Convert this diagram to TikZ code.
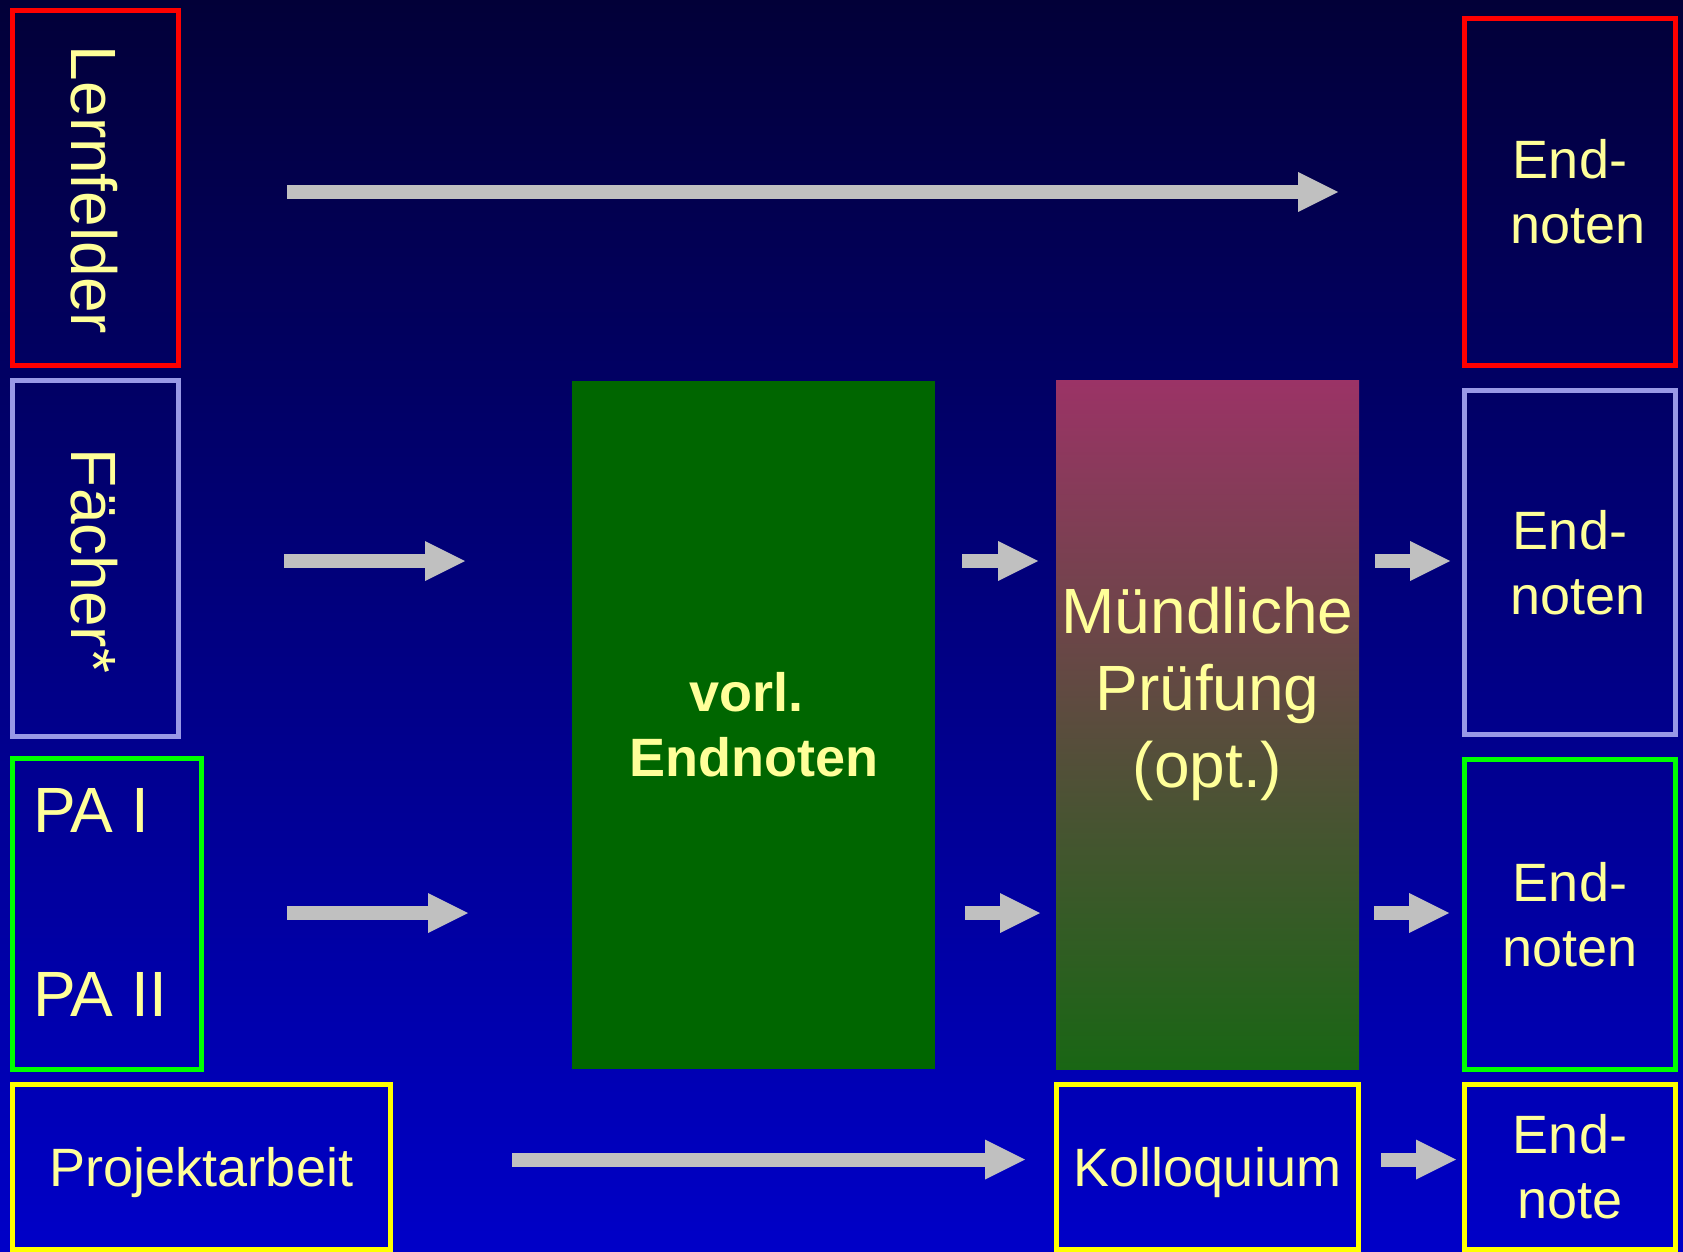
\documentclass[tikz,border=0pt]{standalone}
\usepackage{fontspec}
\setmainfont{Liberation Sans}
\usetikzlibrary{arrows.meta}
\definecolor{bgtop}{RGB}{2,0,56}
\definecolor{bgbot}{RGB}{0,0,200}
\definecolor{mtop}{RGB}{155,51,102}
\definecolor{mmid}{RGB}{120,70,84}
\definecolor{mbot}{RGB}{25,102,20}
\definecolor{vgreen}{RGB}{0,102,0}
\definecolor{lav}{RGB}{153,153,230}
\definecolor{agray}{RGB}{192,192,192}
\definecolor{tyel}{RGB}{255,255,153}
\definecolor{bred}{RGB}{255,0,0}
\definecolor{bgreen}{RGB}{0,255,0}
\definecolor{byel}{RGB}{255,255,0}
\begin{document}
\begin{tikzpicture}[x=0.5pt,y=-0.5pt,
  box/.style={draw,line width=2.5pt,inner sep=0pt,outer sep=0pt,text=tyel,align=center},
  solid box/.style={inner sep=0pt,outer sep=0pt,text=tyel,align=center},
  mid/.style={font=\fontsize{27}{32.4}\selectfont},
  big/.style={font=\fontsize{32}{38.4}\selectfont},
  lbl/.style={text=tyel,inner sep=0pt,outer sep=0pt,align=center},
  arr/.style={draw=agray,line width=7pt,-{Triangle[length=20pt,width=20pt,line width=0pt]}}]
\useasboundingbox (0,0) rectangle (1683,1252);
\shade[top color=bgtop,bottom color=bgbot] (0,0) rectangle (1683,1252);
% left boxes
\node[box,draw=bred,minimum width=83pt,minimum height=177.5pt] (lern) at (95.5,188) {};
\node[lbl,big,rotate=-90] (lernt) at (94.5,190) {Lernfelder};
\node[box,draw=lav,minimum width=83pt,minimum height=178pt] (faech) at (95.5,558.5) {};
\node[lbl,big,rotate=-90] (faecht) at (94.5,561) {Fächer*};
\node[box,draw=bgreen,minimum width=94.5pt,minimum height=155.5pt] (pa) at (107,914) {};
\node[lbl,big,anchor=base west] (pa1) at (33,832) {PA I};
\node[lbl,big,anchor=base west] (pa2) at (33,1016) {PA II};
\node[box,draw=byel,mid,text depth=0pt,minimum width=189pt,minimum height=82.5pt] (proj) at (201.5,1167) {Projektarbeit};
% middle
\node[solid box,fill=vgreen,font=\fontsize{27}{32.4}\selectfont\bfseries,minimum width=181.5pt,minimum height=344pt] (vorl) at (753.5,725) {vorl.\rule{7pt}{0pt}\\Endnoten};
\node[solid box,shade,top color=mtop,middle color=mmid,bottom color=mbot,minimum width=151.5pt,minimum height=344.5pt] (mp) at (1207.5,724.5) {};
\node[lbl,big] (mpt) at (1207.5,694) {Mündliche\\Prüfung\\(opt.)};
\node[box,draw=byel,mid,text depth=0pt,minimum width=151pt,minimum height=82.5pt] (koll) at (1207.5,1167) {Kolloquium};
% right boxes
\node[box,draw=bred,mid,minimum width=105.5pt,minimum height=173.5pt] (end1) at (1570,192) {End-\\\rule{8pt}{0pt}noten};
\node[box,draw=lav,mid,minimum width=105.5pt,minimum height=172pt] (end2) at (1570,562.5) {End-\\\rule{8pt}{0pt}noten};
\node[box,draw=bgreen,mid,minimum width=105.5pt,minimum height=155pt] (end3) at (1570,914.5) {End-\\noten};
\node[box,draw=byel,mid,minimum width=105.5pt,minimum height=82.5pt] (end4) at (1570,1167) {End-\\note};
% rows
\coordinate (r1) at (0,192);
\coordinate (r2) at (0,561);
\coordinate (r3) at (0,913);
\coordinate (r4) at (0,1159.5);
% arrows
\draw[arr,shorten <=54.25pt,shorten >=63.25pt] (lern.east |- r1) -- (end1.west |- r1);
\draw[arr,shorten <=52.75pt,shorten >=53.5pt] (faech.east |- r2) -- (vorl.west |- r2);
\draw[arr,shorten <=42.75pt,shorten >=52pt] (pa.east |- r3) -- (vorl.west |- r3);
\draw[arr,shorten <=13.5pt,shorten >=9pt] (vorl.east |- r2) -- (mp.west |- r2);
\draw[arr,shorten <=15pt,shorten >=8pt] (vorl.east |- r3) -- (mp.west |- r3);
\draw[arr,shorten <=8pt,shorten >=7.25pt] (mp.east |- r2) -- (end2.west |- r2);
\draw[arr,shorten <=7.5pt,shorten >=7.75pt] (mp.east |- r3) -- (end3.west |- r3);
\draw[arr,shorten <=60.75pt,shorten >=15.75pt] (proj.east |- r4) -- (koll.west |- r4);
\draw[arr,shorten <=11.25pt,shorten >=4.25pt] (koll.east |- r4) -- (end4.west |- r4);
\end{tikzpicture}
\end{document}
